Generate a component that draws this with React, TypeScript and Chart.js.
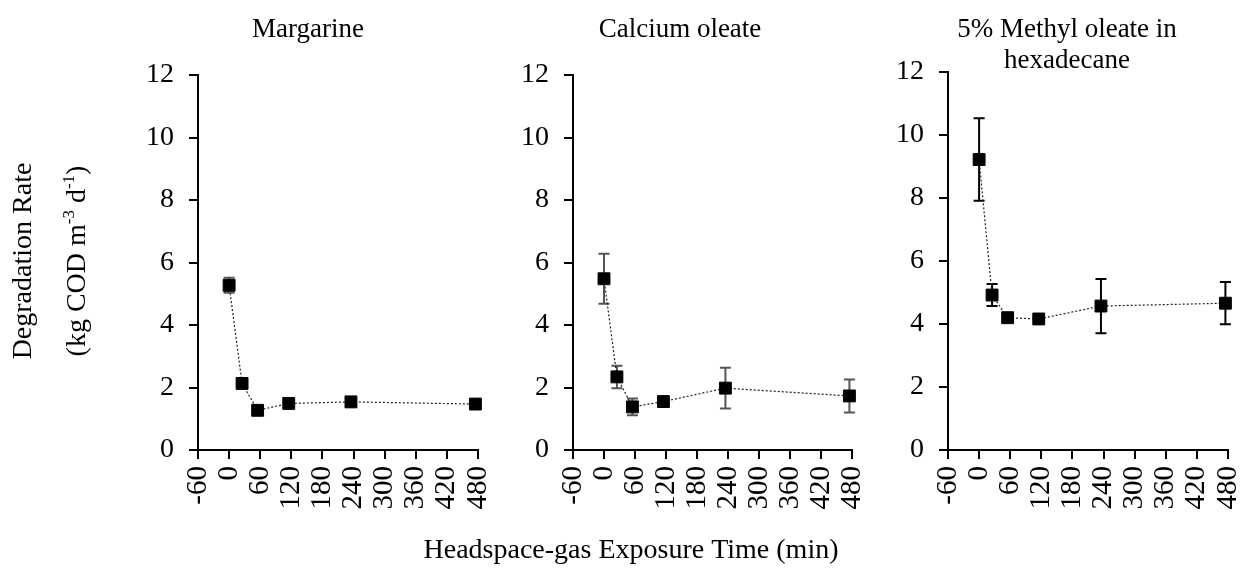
import React, { useEffect, useRef } from 'react';
import { Chart, registerables } from 'chart.js';

Chart.register(...registerables);

// ---- data ----
const timesMin = [0, 25, 55, 115, 235, 475];
const margarineRate = [5.27, 2.13, 1.27, 1.49, 1.54, 1.47];
const margarineErr = [0.24, 0.05, 0.05, 0.05, 0.05, 0.05];
const calciumRate = [5.48, 2.34, 1.38, 1.55, 1.98, 1.73];
const calciumErr = [0.8, 0.36, 0.27, 0.05, 0.65, 0.53];
const methylRate = [9.22, 4.92, 4.2, 4.16, 4.57, 4.66];
const methylErr = [1.31, 0.35, 0.05, 0.05, 0.86, 0.67];
const xTickValues = [-60, 0, 60, 120, 180, 240, 300, 360, 420, 480];
const yTickValues = [0, 2, 4, 6, 8, 10, 12];
const titleMargarine = ['Margarine'];
const titleCalcium = ['Calcium oleate'];
const titleMethyl = ['5% Methyl oleate in', 'hexadecane'];
const yTitleLine1 = 'Degradation Rate';
const yTitleLine2 = [
  { t: '(kg COD m', sup: false },
  { t: '-3', sup: true },
  { t: ' d', sup: false },
  { t: '-1', sup: true },
  { t: ')', sup: false },
];
const xTitle = 'Headspace-gas Exposure Time (min)';

const FONT = '"Liberation Serif", "Times New Roman", serif';
const W = 1241;
const H = 568;
const PLOT_BOTTOM = 450;

type Seg = { t: string; sup: boolean };
type TextItem = { segs: Seg[]; x: number; y: number; rotate?: boolean; size: number };

const errorBarPlugin = {
  id: 'errorBars',
  beforeDatasetsDraw(chart: any, _args: any, opts: any) {
    const { ctx } = chart;
    const xs = chart.scales.x;
    const ys = chart.scales.y;
    const ds = chart.data.datasets[0];
    const errs: number[] = opts.errors || [];
    ctx.save();
    ctx.strokeStyle = opts.color || '#000';
    ctx.lineWidth = 2;
    ds.data.forEach((p: any, i: number) => {
      const e = errs[i] || 0;
      if (!e) return;
      const px = xs.getPixelForValue(p.x);
      const yt = ys.getPixelForValue(p.y + e);
      const yb = ys.getPixelForValue(p.y - e);
      ctx.beginPath();
      ctx.moveTo(px, yt);
      ctx.lineTo(px, yb);
      ctx.moveTo(px - 5.5, yt);
      ctx.lineTo(px + 5.5, yt);
      ctx.moveTo(px - 5.5, yb);
      ctx.lineTo(px + 5.5, yb);
      ctx.stroke();
    });
    ctx.restore();
  },
};

const textPlugin = {
  id: 'freeText',
  afterDraw(chart: any, _args: any, opts: any) {
    const { ctx } = chart;
    const items: TextItem[] = opts.items || [];
    ctx.save();
    ctx.fillStyle = '#000';
    ctx.textBaseline = 'alphabetic';
    ctx.textAlign = 'left';
    items.forEach((it) => {
      const big = `${it.size}px ${FONT}`;
      const small = `${Math.round(it.size * 0.62)}px ${FONT}`;
      let total = 0;
      it.segs.forEach((s) => {
        ctx.font = s.sup ? small : big;
        total += ctx.measureText(s.t).width;
      });
      ctx.save();
      ctx.translate(it.x, it.y);
      if (it.rotate) ctx.rotate(-Math.PI / 2);
      let cx = -total / 2;
      it.segs.forEach((s) => {
        ctx.font = s.sup ? small : big;
        ctx.fillText(s.t, cx, s.sup ? -it.size * 0.38 : 0);
        cx += ctx.measureText(s.t).width;
      });
      ctx.restore();
    });
    ctx.restore();
  },
};

type PanelProps = {
  canvasLeft: number;
  canvasWidth: number;
  plotLeft: number;
  plotRight: number;
  plotTop: number;
  rate: number[];
  err: number[];
  errColor: string;
  texts: TextItem[];
};

function Panel(p: PanelProps) {
  const ref = useRef<HTMLCanvasElement | null>(null);
  useEffect(() => {
    if (!ref.current) return;
    const yWidth = p.plotLeft - p.canvasLeft;
    const padRight = p.canvasLeft + p.canvasWidth - p.plotRight;
    const localTexts = p.texts.map((t) => ({ ...t, x: t.x - p.canvasLeft }));
    const chart = new Chart(ref.current, {
      type: 'line',
      data: {
        datasets: [
          {
            data: timesMin.map((x, i) => ({ x, y: p.rate[i] })),
            borderColor: '#222',
            borderWidth: 1.2,
            borderDash: [2, 2],
            tension: 0,
            clip: false,
            pointStyle: 'rect',
            pointRadius: 8.4,
            pointBackgroundColor: '#000',
            pointBorderColor: '#000',
            pointBorderWidth: 1,
          } as any,
        ],
      },
      options: {
        animation: false,
        responsive: false,
        maintainAspectRatio: false,
        events: [],
        layout: { padding: { left: 0, right: padRight, top: p.plotTop, bottom: 0 } },
        plugins: {
          legend: { display: false },
          tooltip: { enabled: false },
          errorBars: { errors: p.err, color: p.errColor },
          freeText: { items: localTexts },
        } as any,
        scales: {
          x: {
            type: 'linear',
            min: xTickValues[0],
            max: xTickValues[xTickValues.length - 1],
            afterBuildTicks: (s: any) => {
              s.ticks = xTickValues.map((v) => ({ value: v }));
            },
            afterFit: (s: any) => {
              s.height = H - PLOT_BOTTOM;
              s.paddingLeft = 0;
              s.paddingRight = 0;
            },
            grid: { drawOnChartArea: false, drawTicks: true, tickLength: 9, color: '#000', lineWidth: 2 },
            border: { display: true, color: '#000', width: 2 },
            ticks: {
              autoSkip: false,
              minRotation: 90,
              maxRotation: 90,
              padding: 7,
              color: '#000',
              font: { family: FONT, size: 29 },
            },
          },
          y: {
            type: 'linear',
            min: yTickValues[0],
            max: yTickValues[yTickValues.length - 1],
            afterBuildTicks: (s: any) => {
              s.ticks = yTickValues.map((v) => ({ value: v }));
            },
            afterFit: (s: any) => {
              s.width = yWidth;
              s.paddingTop = 0;
              s.paddingBottom = 0;
            },
            grid: { drawOnChartArea: false, drawTicks: true, tickLength: 9, color: '#000', lineWidth: 2 },
            border: { display: true, color: '#000', width: 2 },
            ticks: {
              padding: 15,
              color: '#000',
              font: { family: FONT, size: 28 },
            },
          },
        },
      },
      plugins: [errorBarPlugin, textPlugin],
    } as any);
    return () => chart.destroy();
  }, []);
  return (
    <canvas
      ref={ref}
      width={p.canvasWidth}
      height={H}
      style={{ position: 'absolute', left: p.canvasLeft, top: 0, width: p.canvasWidth, height: H }}
    />
  );
}

const plain = (t: string): Seg[] => [{ t, sup: false }];

export default function App() {
  useEffect(() => {
    document.body.style.margin = '0';
  }, []);
  const titleSize = 27;
  const p1Texts: TextItem[] = [
    ...titleMargarine.map((t, i) => ({ segs: plain(t), x: 308, y: 37 + i * 31, size: titleSize })),
    { segs: plain(yTitleLine1), x: 31, y: 261, rotate: true, size: 28 },
    { segs: yTitleLine2, x: 85, y: 261, rotate: true, size: 28 },
  ];
  const p2Texts: TextItem[] = [
    ...titleCalcium.map((t, i) => ({ segs: plain(t), x: 680, y: 37 + i * 31, size: titleSize })),
    { segs: plain(xTitle), x: 631, y: 558, size: 28 },
  ];
  const p3Texts: TextItem[] = [
    ...titleMethyl.map((t, i) => ({ segs: plain(t), x: 1067, y: 37 + i * 31, size: titleSize })),
  ];
  return (
    <div style={{ position: 'relative', width: W, height: H, overflow: 'hidden', background: '#fff' }}>
      <Panel canvasLeft={0} canvasWidth={500} plotLeft={198} plotRight={478} plotTop={75}
        rate={margarineRate} err={margarineErr} errColor="#555" texts={p1Texts} />
      <Panel canvasLeft={380} canvasWidth={500} plotLeft={573} plotRight={852} plotTop={75}
        rate={calciumRate} err={calciumErr} errColor="#555" texts={p2Texts} />
      <Panel canvasLeft={741} canvasWidth={500} plotLeft={948} plotRight={1228} plotTop={72}
        rate={methylRate} err={methylErr} errColor="#000" texts={p3Texts} />
    </div>
  );
}
